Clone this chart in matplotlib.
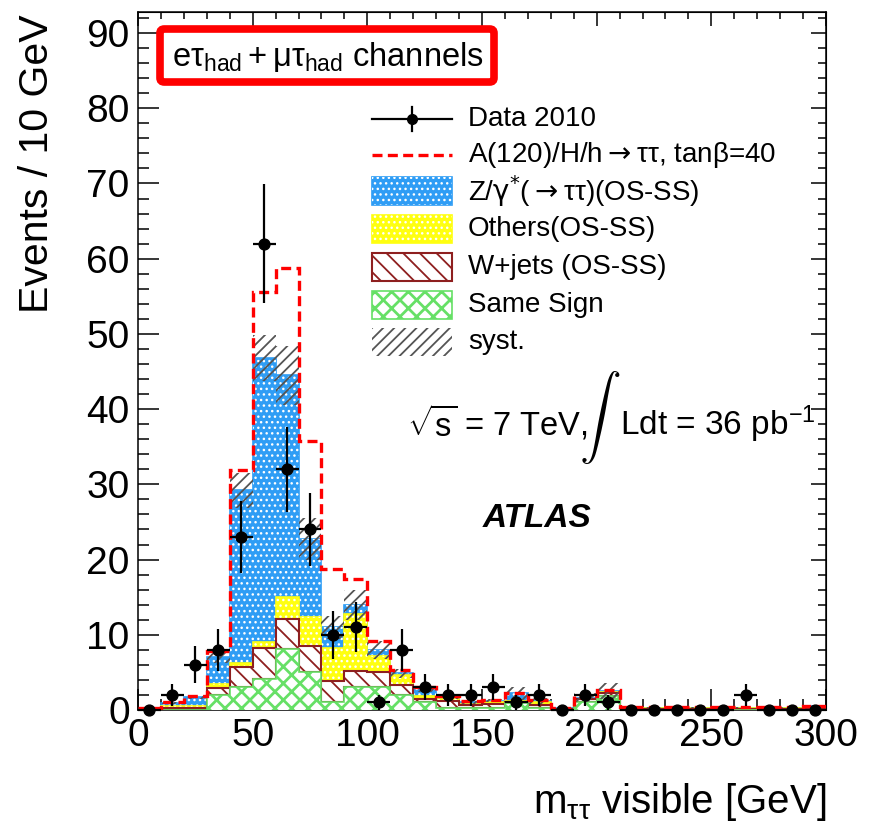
import numpy as np
import matplotlib
matplotlib.use("Agg")
import matplotlib.pyplot as plt
from matplotlib.patches import Rectangle, FancyBboxPatch
from matplotlib.lines import Line2D
from matplotlib.ticker import MultipleLocator

plt.rcParams['font.family'] = ['Liberation Sans', 'DejaVu Sans']
plt.rcParams['mathtext.fontset'] = 'custom'
plt.rcParams['mathtext.rm'] = 'Liberation Sans'
plt.rcParams['mathtext.it'] = 'Liberation Sans:italic'
plt.rcParams['mathtext.bf'] = 'Liberation Sans:bold'
plt.rcParams['hatch.linewidth'] = 1.0

# ---- binned data: m_tautau visible, 10 GeV bins from 0 to 300 GeV ----
bin_edges = np.arange(0, 301, 10)

data_2010 = [0, 2, 6, 8, 23, 62, 32, 24, 10, 11, 1, 8, 3, 2, 2, 3, 1, 2, 0, 2,
             1, 0, 0, 0, 0, 0, 2, 0, 0, 0]

same_sign = [0.0, 0.05, 0.05, 2.0, 3.0, 4.1, 8.1, 5.0, 1.0, 3.0, 3.0, 2.0, 1.0, 0.3, 0.2,
             0.3, 0.9, 0.2, 0.05, 1.0, 1.8, 0.05, 0.05, 0.05, 0.05, 0.05, 0.05, 0.05, 0.05, 0.05]
wjets = [0.0, 0.15, 0.15, 0.9, 2.7, 4.1, 4.0, 3.5, 2.8, 2.2, 2.1, 1.3, 0.5, 0.9, 0.4,
         0.5, 0.1, 0.5, 0.05, 0.4, 0.4, 0.1, 0.1, 0.1, 0.1, 0.1, 0.1, 0.1, 0.1, 0.1]
others = [0.05, 0.3, 0.3, 0.6, 0.6, 0.9, 2.9, 3.9, 4.4, 7.5, 2.1, 1.3, 0.4, 0.2, 0.2,
          0.2, 0.2, 0.3, 0.05, 0.1, 0.2, 0.1, 0.1, 0.1, 0.1, 0.1, 0.1, 0.1, 0.1, 0.3]
ztautau = [0.05, 0.4, 1.2, 3.6, 22.9, 37.7, 29.5, 10.3, 2.8, 1.2, 0.8, 0.3, 0.9, 0.3, 0.2,
           0.2, 1.0, 0.2, 0.05, 0.1, 0.1, 0.05, 0.05, 0.05, 0.05, 0.05, 0.05, 0.05, 0.05, 0.05]
signal = [0.1, 0.1, 0.2, 0.8, 2.7, 8.8, 14.2, 13.0, 7.8, 3.5, 1.2, 0.4, 0.2, 0.2, 0.2,
          0.1, 0.1, 0.1, 0.1, 0.2, 0.1, 0.05, 0.05, 0.05, 0.05, 0.05, 0.05, 0.05, 0.05, 0.05]
syst_err = [0.0, 0.1, 0.3, 0.9, 2.3, 3.1, 3.9, 2.8, 1.5, 2.0, 1.2, 0.6, 0.4, 0.3, 0.2,
            0.2, 0.9, 0.4, 0.1, 0.6, 1.1, 0.1, 0.1, 0.1, 0.1, 0.1, 0.1, 0.1, 0.1, 0.1]

legend_labels = ["Data 2010",
                 "A(120)/H/h$\\rightarrow$\u03c4\u03c4, tan\u03b2=40",
                 "Z/$\\mathrm{\\gamma}^{*}$($\\rightarrow$\u03c4\u03c4)(OS-SS)",
                 "Others(OS-SS)",
                 "W+jets (OS-SS)",
                 "Same Sign",
                 "syst."]

# ---- styles ----
C_Z, C_OTH, C_W, C_SS, C_SYST, C_SIG = '#2f9df5', '#ffff10', '#8e1f1f', '#66e066', '#555555', '#ff0000'

W_PX, H_PX = 871, 830
fig = plt.figure(figsize=(W_PX / 100, H_PX / 100), dpi=100)
AX_L, AX_R, AX_T, AX_B = 138, 826, 12, 710
ax = fig.add_axes([AX_L / W_PX, 1 - AX_B / H_PX, (AX_R - AX_L) / W_PX, (AX_B - AX_T) / H_PX])


def set_hlw(artist, lw):
    if hasattr(artist, 'set_hatch_linewidth'):
        artist.set_hatch_linewidth(lw)
    return artist


ss = np.asarray(same_sign)
cum_w = ss + np.asarray(wjets)
cum_o = cum_w + np.asarray(others)
total = cum_o + np.asarray(ztautau)
syst = np.asarray(syst_err)
centers = 0.5 * (bin_edges[:-1] + bin_edges[1:])
data = np.asarray(data_2010, dtype=float)

# Z/gamma* -> tautau : blue with white dots
ax.stairs(total, bin_edges, baseline=cum_o, fill=True, facecolor=C_Z, edgecolor=C_Z, lw=1.2, zorder=2)
set_hlw(ax.stairs(total, bin_edges, baseline=cum_o, fill=True, facecolor='none',
                  edgecolor='white', hatch='...', lw=0, zorder=2.1), 1.0)
# Others : yellow with white dots
ax.stairs(cum_o, bin_edges, baseline=cum_w, fill=True, facecolor=C_OTH, edgecolor=C_OTH, lw=1.2, zorder=3)
set_hlw(ax.stairs(cum_o, bin_edges, baseline=cum_w, fill=True, facecolor='none',
                  edgecolor='white', hatch='...', lw=0, zorder=3.1), 1.0)
# W+jets : dark red diagonal lines on white
set_hlw(ax.stairs(cum_w, bin_edges, baseline=ss, fill=True, facecolor='white', edgecolor=C_W,
                  hatch='\\\\', lw=1.5, zorder=4), 1.3)
# Same sign : green cross-hatch on white
set_hlw(ax.stairs(ss, bin_edges, baseline=0, fill=True, facecolor='white', edgecolor=C_SS,
                  hatch='xx', lw=1.2, zorder=5), 2.0)
# systematic band
set_hlw(ax.stairs(total + syst, bin_edges, baseline=total - syst, fill=True, facecolor='none',
                  edgecolor=C_SYST, hatch='///', lw=0, zorder=6), 1.3)
# signal on top of background
ax.stairs(total + np.asarray(signal), bin_edges, baseline=None, fill=False, edgecolor=C_SIG,
          lw=2.4, linestyle=(0, (3, 1.6)), zorder=7)

# data
yerr = np.sqrt(data)
eb = ax.errorbar(centers, data, yerr=yerr, xerr=5, fmt='o', color='black', ms=7.8,
                 elinewidth=1.6, capsize=0, zorder=10)
for art in eb.get_children():
    art.set_clip_on(False)

# ---- axes ----
ax.set_xlim(0, 300)
ax.set_ylim(0, 92.8)
ax.xaxis.set_major_locator(MultipleLocator(50))
ax.xaxis.set_minor_locator(MultipleLocator(10))
ax.yaxis.set_major_locator(MultipleLocator(10))
ax.yaxis.set_minor_locator(MultipleLocator(2))
ax.tick_params(which='both', direction='in', width=1.1, top=False, right=False,
               labelsize=28, pad=6)
ax.tick_params(which='major', length=15)
ax.tick_params(which='minor', length=8)
for sp in ax.spines.values():
    sp.set_linewidth(1.1)

secx = ax.secondary_xaxis('top')
secx.xaxis.set_major_locator(MultipleLocator(50))
secx.xaxis.set_minor_locator(MultipleLocator(10))
secx.tick_params(which='both', direction='in', width=1.1, labeltop=False)
secx.tick_params(which='major', length=10)
secx.tick_params(which='minor', length=5)
secy = ax.secondary_yaxis('right')
secy.yaxis.set_major_locator(MultipleLocator(10))
secy.yaxis.set_minor_locator(MultipleLocator(2))
secy.tick_params(which='both', direction='in', width=1.1, labelright=False)
secy.tick_params(which='major', length=11)
secy.tick_params(which='minor', length=5.5)


def fx(px):
    return px / W_PX


def fy(py):
    return 1 - py / H_PX


fig.text(fx(826), fy(813), r"m$_{\mathrm{\tau\tau}}$ visible [GeV]", ha='right', va='baseline', fontsize=29)
fig.text(fx(37), fy(14), "Events / 10 GeV", ha='center', va='top', rotation=90, fontsize=29.5)

# ---- legend ----
row_y = [119, 155, 191, 229, 267, 305, 342]
sx0, sx1, box_h = 372, 452, 28
tx = 468


def add_box(py, face, edge, hatch=None, lw=1.2, hlw=1.0, overlay=None):
    r = Rectangle((fx(sx0), fy(py + box_h / 2)), fx(sx1 - sx0), box_h / H_PX,
                  transform=fig.transFigure, facecolor=face, edgecolor=edge, lw=lw, hatch=hatch)
    set_hlw(r, hlw)
    fig.add_artist(r)
    if overlay:
        r2 = Rectangle((fx(sx0), fy(py + box_h / 2)), fx(sx1 - sx0), box_h / H_PX,
                       transform=fig.transFigure, facecolor='none', edgecolor='white', lw=0, hatch=overlay)
        set_hlw(r2, 1.0)
        fig.add_artist(r2)


# data entry
fig.add_artist(Line2D([fx(sx0), fx(sx1)], [fy(row_y[0])] * 2, transform=fig.transFigure, color='k', lw=1.6))
fig.add_artist(Line2D([fx(412)] * 2, [fy(row_y[0] - 12), fy(row_y[0] + 12)], transform=fig.transFigure,
                      color='k', lw=1.6))
fig.add_artist(Line2D([fx(412)], [fy(row_y[0])], transform=fig.transFigure, marker='o', color='k', ms=7))
# signal entry
fig.add_artist(Line2D([fx(sx0), fx(sx1)], [fy(row_y[1])] * 2, transform=fig.transFigure, color=C_SIG,
                      lw=2.4, linestyle=(0, (3, 1.6))))
add_box(row_y[2], C_Z, C_Z, overlay='...')
add_box(row_y[3], C_OTH, C_OTH, overlay='...')
add_box(row_y[4], 'white', C_W, hatch='\\\\', lw=1.5, hlw=1.3)
add_box(row_y[5], 'white', C_SS, hatch='xx', lw=1.2, hlw=2.0)
add_box(row_y[6], 'none', C_SYST, hatch='///', lw=0, hlw=1.3)

for py, lab in zip(row_y, legend_labels):
    fig.text(fx(tx), fy(py), lab, ha='left', va='center', fontsize=20, math_fontfamily='dejavusans')

# ---- channel label in a red box ----
fig.add_artist(FancyBboxPatch((fx(160), fy(82)), fx(334), 53 / H_PX, transform=fig.transFigure,
                              boxstyle='round,pad=0,rounding_size=0.005', facecolor='white',
                              edgecolor='#ff0000', lw=5.5, zorder=20))
fig.text(fx(172), fy(66), r"$\mathrm{e\tau_{had} + \mu\tau_{had}}$ channels", ha='left', va='baseline',
         fontsize=23.5, zorder=21)

# ---- energy / luminosity and experiment label ----
fig.text(fx(407), fy(435), r"$\sqrt{\mathrm{s}}$ = 7 TeV,", ha='left', va='baseline', fontsize=23.5)
fig.text(fx(600), fy(418), r"$\int$", ha='center', va='center', fontsize=30, math_fontfamily='cm')
fig.text(fx(620), fy(435), r"Ldt = 36 pb$^{\mathrm{-1}}$", ha='left', va='baseline', fontsize=24)
fig.text(fx(537), fy(527), "ATLAS", ha='center', va='baseline', fontsize=24, fontweight='bold',
         fontstyle='italic')

fig.savefig("out.png", dpi=100)
